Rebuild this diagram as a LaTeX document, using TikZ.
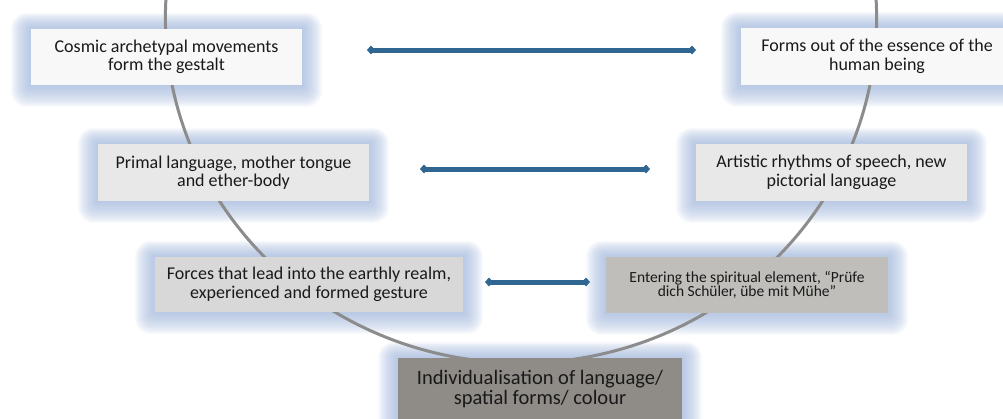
\documentclass[tikz,border=0pt]{standalone}
\usepackage{fontspec}
\setmainfont{Carlito}
\usetikzlibrary{arrows.meta}
\definecolor{glowc}{RGB}{158,180,218}
\definecolor{arcc}{RGB}{140,140,140}
\definecolor{arrowc}{RGB}{47,102,146}
\definecolor{fillA}{RGB}{248,248,248}
\definecolor{fillB}{RGB}{232,232,232}
\definecolor{fillC}{RGB}{216,216,216}
\definecolor{fillD}{RGB}{191,190,187}
\definecolor{fillE}{RGB}{143,139,135}
\definecolor{textc}{RGB}{25,25,25}
\pgfdeclarelayer{bg}
\pgfdeclarelayer{mid}
\pgfsetlayers{bg,mid,main}
\newcommand\glowof[1]{%
  \begin{pgfonlayer}{bg}
  \foreach \k in {1,...,20}{%
    \fill[glowc,opacity=0.06,rounded corners=0.8*\k pt]
      ([shift={(-\k,-0.8*\k)}]#1.north west) rectangle ([shift={(\k,1.1*\k)}]#1.south east);
  }
  \end{pgfonlayer}}
\tikzset{
  box/.style={rectangle, inner sep=0pt, align=center, text=textc,
    font=\fontsize{18}{18.5}\selectfont},
  biarrow/.style={draw=arrowc, line width=5pt, {Diamond[length=8pt,width=9pt]}-{Diamond[length=8pt,width=9pt]}},
  arcline/.style={draw=arcc, line width=3pt}
}
\begin{document}
\begin{tikzpicture}[x=1pt,y=-1pt]
\useasboundingbox (0,0) rectangle (1003,418);
\clip (0,0) rectangle (1003,418);
\node[box, fill=fillA, minimum width=271pt, minimum height=56pt] (b1) at (166.5,57) {Cosmic archetypal movements\\form the gestalt};
\node[box, fill=fillA, minimum width=272pt, minimum height=57pt] (b2) at (877,56.5) {Forms out of the essence of the\\human being};
\node[box, fill=fillB, minimum width=271pt, minimum height=57pt] (b3) at (233.5,172.5) {Primal language, mother tongue\\and ether-body};
\node[box, fill=fillB, minimum width=271pt, minimum height=57pt] (b4) at (831.5,172.5) {Artistic rhythms of speech, new\\pictorial language};
\node[box, fill=fillC, minimum width=308pt, minimum height=55pt] (b5) at (309,284.5) {Forces that lead into the earthly realm,\\experienced and formed gesture};
\node[box, fill=fillD, minimum width=282pt, minimum height=56pt, font=\fontsize{15.5}{14.5}\selectfont] (b6) at (747,285) {Entering the spiritual element, “Prüfe\\dich Schüler, übe mit Mühe”};
\node[box, fill=fillE, minimum width=284pt, minimum height=62pt, font=\fontsize{20.5}{19.5}\selectfont] (b7) at (540,389) {Individualisation of language/\\spatial forms/ colour};
\glowof{b1}\glowof{b2}\glowof{b3}\glowof{b4}\glowof{b5}\glowof{b6}\glowof{b7}
\begin{pgfonlayer}{mid}
\draw[arcline] (521,18) ellipse [x radius=355.6, y radius=345];
\end{pgfonlayer}
\coordinate (a1l) at (367,50); \coordinate (a1r) at (696,50);
\coordinate (a2l) at (420,169); \coordinate (a2r) at (650,169);
\coordinate (a3l) at (485,282); \coordinate (a3r) at (590,282);
\draw[biarrow] (a1l) -- (a1r);
\draw[biarrow] (a2l) -- (a2r);
\draw[biarrow] (a3l) -- (a3r);
\end{tikzpicture}
\end{document}
